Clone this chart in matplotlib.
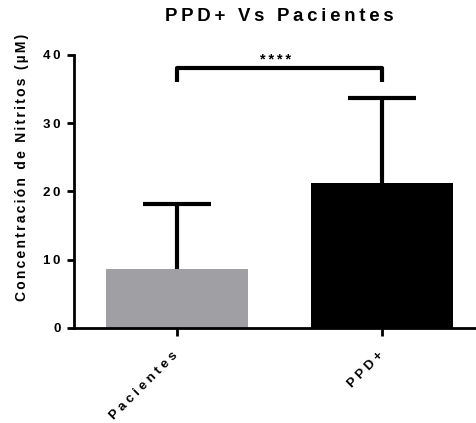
import numpy as np
import matplotlib.pyplot as plt
from matplotlib.transforms import ScaledTranslation

plt.rcParams['font.family'] = ['Liberation Sans', 'DejaVu Sans']
plt.rcParams['font.weight'] = 'bold'

grupos = ['Pacientes', 'PPD+']
medias = [8.6, 21.2]
sd = [9.6, 12.5]
colores = ['#a0a0a4', '#000000']
yticks = [0, 10, 20, 30, 40]
sig_y = 38.1
sig_leg = 36.0
sig_txt = '****'
titulo = 'PPD+ Vs Pacientes'
ylab = 'Concentración de Nitritos (µM)'

def espaciado(s, sep='\u2009'):
    # imita el espaciado de letras de Prism
    return sep.join(s)

fig = plt.figure(figsize=(4.77, 4.23), dpi=100)
ax = fig.add_axes([0.155, 0.2246, 0.845, 0.6454])

x = np.arange(len(grupos))
ax.bar(x, medias, width=0.69, color=colores, zorder=2)
eb = ax.errorbar(x, medias, yerr=[np.zeros(len(sd)), sd], fmt='none',
                 ecolor='k', elinewidth=3, capsize=24.5, capthick=3, zorder=3)
eb[1][0].set_visible(False)  # sin tapa inferior

# barra de significancia
ax.plot([x[0], x[0], x[1], x[1]], [sig_leg, sig_y, sig_y, sig_leg],
        color='k', lw=3, solid_capstyle='butt', clip_on=False)
ax.text((x[0] + x[1]) / 2 - 0.02, sig_y + 0.1, espaciado(sig_txt), ha='center',
        va='bottom', fontsize=10.5, fontweight='bold')

ax.set_xlim(-0.5, 1.46)
ax.set_ylim(0, 40)
ax.set_yticks(yticks)
ax.set_yticklabels([espaciado(str(t)) for t in yticks], fontsize=9.5,
                   fontweight='bold')
ax.set_xticks(x)
ax.set_xticklabels([espaciado(g, ' ') for g in grupos], rotation=45, ha='right',
                   rotation_mode='anchor', fontsize=9.5, fontweight='bold')
ax.tick_params(axis='y', width=2, length=5, pad=4.5)
ax.tick_params(axis='x', width=2, length=6, pad=8)
desplaz = ScaledTranslation(-5/100, -2/100, fig.dpi_scale_trans)
for lab in ax.get_xticklabels():
    lab.set_transform(lab.get_transform() + desplaz)

for s in ['top', 'right']:
    ax.spines[s].set_visible(False)
for s in ['left', 'bottom']:
    ax.spines[s].set_linewidth(2)

ax.set_ylabel(espaciado(ylab, '\u2006'), fontsize=10, fontweight='bold')
ax.yaxis.set_label_coords(-0.112, 0.59)
fig.text(0.585, 0.96, espaciado(titulo), ha='center', va='center',
         fontsize=13.4, fontweight='bold')

fig.savefig('out.png', dpi=100)
